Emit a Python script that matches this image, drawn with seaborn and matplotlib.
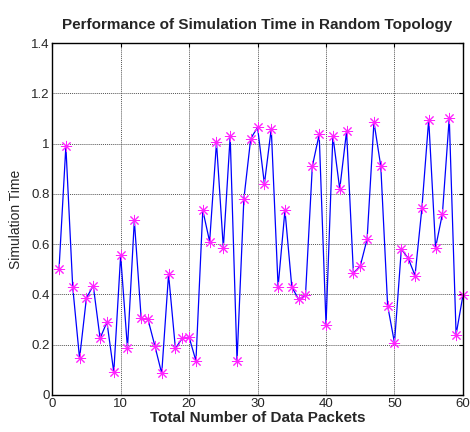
import matplotlib
matplotlib.use("Agg")
import matplotlib.pyplot as plt
import matplotlib.ticker as mticker
import numpy as np
import pandas as pd
import seaborn as sns

packets = list(range(1, 61))
sim_time = [0.50, 0.99, 0.43, 0.145, 0.385, 0.435, 0.225, 0.29, 0.09, 0.555,
            0.185, 0.695, 0.305, 0.30, 0.195, 0.085, 0.48, 0.185, 0.225, 0.23,
            0.135, 0.735, 0.61, 1.005, 0.585, 1.03, 0.135, 0.78, 1.02, 1.065,
            0.84, 1.06, 0.43, 0.735, 0.43, 0.38, 0.396, 0.91, 1.037, 0.279,
            1.032, 0.819, 1.049, 0.485, 0.513, 0.62, 1.086, 0.91, 0.355, 0.207,
            0.58, 0.544, 0.475, 0.742, 1.096, 0.586, 0.721, 1.103, 0.24, 0.396]

df = pd.DataFrame({"packets": packets, "time": sim_time})

sns.set_style("white")
plt.rcParams["font.family"] = ["Liberation Sans", "DejaVu Sans"]

fig = plt.figure(figsize=(4.7, 4.32), dpi=100)
ax = fig.add_axes([0.111, 0.086, 0.874, 0.814])

sns.lineplot(data=df, x="packets", y="time", ax=ax, color="blue", linewidth=0.9,
             marker=(8, 2, 0), markersize=8, markeredgecolor="#ff22ff",
             markerfacecolor="#ff22ff", markeredgewidth=0.7, clip_on=False)

ax.set_xlim(0, 60)
ax.set_ylim(0, 1.4)
ax.set_xticks(range(0, 61, 10))
ax.set_yticks(np.arange(0, 1.41, 0.2))
ax.yaxis.set_major_formatter(mticker.FormatStrFormatter("%g"))
ax.grid(True, color="#555555", linestyle=(0, (1, 1)), linewidth=0.7)
ax.tick_params(direction="in", top=True, right=True, length=3, labelsize=9.5,
               color="black", pad=2)
for s in ax.spines.values():
    s.set_color("black")
    s.set_linewidth(1.0)

ax.set_title("Performance of Simulation Time in Random Topology",
             fontsize=11, fontweight="bold", pad=10)
ax.set_xlabel("Total Number of Data Packets", fontsize=11, fontweight="bold", labelpad=1)
ax.set_ylabel("Simulation Time", fontsize=10, labelpad=6)

fig.savefig("out.png", dpi=100)
